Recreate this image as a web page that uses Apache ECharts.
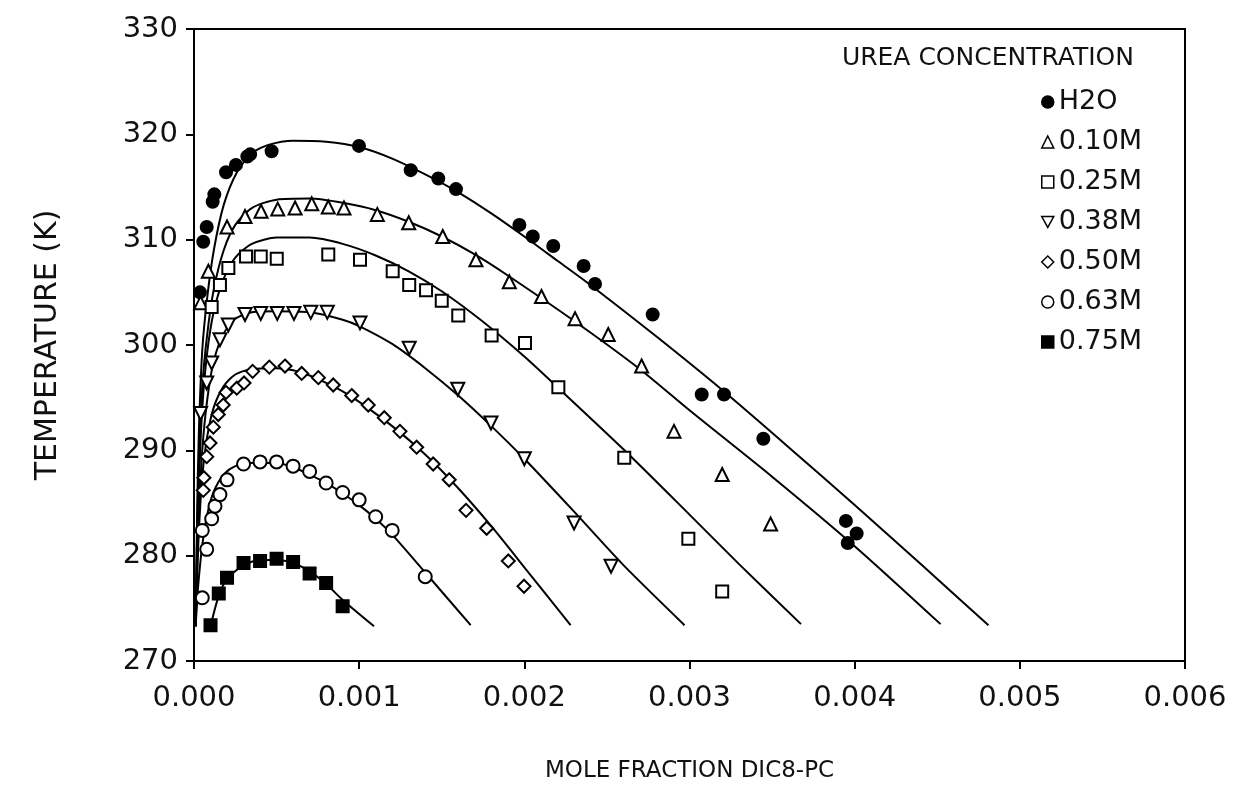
<!DOCTYPE html>
<html><head><meta charset="utf-8">
<script src="https://cdn.jsdelivr.net/npm/echarts@6/dist/echarts.min.js"></script>
<style>html,body{margin:0;padding:0;background:#fff}#c{width:1234px;height:788px}</style>
</head><body><div id="c"></div>
<script>
// ---- data (x = mole fraction DiC8-PC, y = temperature K) ----
const legendTitle = 'UREA CONCENTRATION';
const seriesNames = ['H2O', '0.10M', '0.25M', '0.38M', '0.50M', '0.63M', '0.75M'];

const ptsH2O = [[0.000036,305.0],[0.000056,309.8],[0.000077,311.2],[0.000113,313.6],[0.000123,314.3],[0.000194,316.4],[0.000254,317.1],[0.000323,317.9],[0.00034,318.1],[0.00047,318.4],[0.000999,318.9],[0.001312,316.6],[0.001479,315.8],[0.001586,314.8],[0.00197,311.4],[0.002051,310.3],[0.002175,309.4],[0.002359,307.5],[0.002428,305.8],[0.002777,302.9],[0.003074,295.3],[0.003209,295.3],[0.003447,291.1],[0.003947,283.3],[0.004012,282.1],[0.003958,281.2]];
const pts010 = [[0.00004,304.0],[0.000087,307.0],[0.0002,311.2],[0.000309,312.2],[0.000406,312.7],[0.000507,312.9],[0.000612,313.0],[0.000713,313.4],[0.000813,313.1],[0.000908,313.0],[0.00111,312.4],[0.0013,311.6],[0.001506,310.3],[0.001707,308.1],[0.001909,306.0],[0.002104,304.6],[0.002307,302.5],[0.002508,301.0],[0.00271,298.0],[0.002906,291.8],[0.003198,287.7],[0.003491,283.0]];
const pts025 = [[0.000107,303.6],[0.000157,305.7],[0.000208,307.3],[0.000315,308.4],[0.000404,308.4],[0.000501,308.2],[0.000813,308.6],[0.001005,308.1],[0.001203,307.0],[0.001303,305.7],[0.001405,305.2],[0.0015,304.2],[0.0016,302.8],[0.001802,300.9],[0.002004,300.2],[0.002206,296.0],[0.002605,289.3],[0.002993,281.6],[0.003198,276.6]];
const pts038 = [[0.00004,293.5],[0.000077,296.4],[0.000107,298.3],[0.000157,300.5],[0.000208,301.9],[0.000309,302.9],[0.000404,303.0],[0.000504,303.0],[0.000605,303.0],[0.000707,303.1],[0.000807,303.1],[0.001005,302.1],[0.001303,299.7],[0.001597,295.8],[0.001798,292.6],[0.002,289.2],[0.002301,283.1],[0.002525,279.0]];
const pts050 = [[0.000056,286.2],[0.00006,287.4],[0.000077,289.4],[0.000097,290.7],[0.000117,292.2],[0.000147,293.4],[0.000177,294.3],[0.000194,295.5],[0.000259,295.9],[0.000303,296.4],[0.000355,297.5],[0.000456,297.9],[0.000551,298.0],[0.000652,297.3],[0.000753,296.9],[0.000843,296.2],[0.000955,295.2],[0.001055,294.3],[0.001152,293.1],[0.001247,291.8],[0.001348,290.3],[0.001448,288.7],[0.001545,287.2],[0.001647,284.3],[0.001772,282.6],[0.001903,279.5],[0.001998,277.1]];
const pts063 = [[0.00005,276.0],[0.000077,280.6],[0.00005,282.4],[0.000107,283.5],[0.000127,284.7],[0.000157,285.8],[0.0002,287.2],[0.0003,288.7],[0.0004,288.9],[0.0005,288.9],[0.0006,288.5],[0.0007,288.0],[0.0008,286.9],[0.0009,286.0],[0.001,285.3],[0.0011,283.7],[0.0012,282.4],[0.0014,278.0]];
const pts075 = [[0.0001,273.4],[0.00015,276.4],[0.0002,277.9],[0.0003,279.3],[0.0004,279.5],[0.0005,279.7],[0.0006,279.4],[0.0007,278.3],[0.0008,277.4],[0.0009,275.2]];

// fitted curves
const fitH2O = [[0.00001,273.3],[0.00002,285],[0.00003,292],[0.00005,299.5],[0.00008,304.5],[0.00012,309],[0.00018,313.3],[0.00026,316.4],[0.00035,318.2],[0.00045,319.0],[0.0006,319.4],[0.0008,319.3],[0.001,318.8],[0.0012,317.7],[0.0014,316.2],[0.0016,314.5],[0.0018,312.5],[0.002,310.3],[0.0022,308.0],[0.0024,305.7],[0.0028,300.8],[0.0032,295.7],[0.0036,290.3],[0.004,284.8],[0.0044,279.2],[0.00481,273.4]];
const fit010 = [[0.00001,273.3],[0.00002,283],[0.00003,289],[0.00005,296],[0.00008,301],[0.00012,305.3],[0.00018,309.0],[0.00025,311.4],[0.00035,313.0],[0.0005,313.8],[0.0007,313.9],[0.0009,313.5],[0.0011,312.8],[0.0013,311.7],[0.0015,310.3],[0.0017,308.6],[0.0019,306.6],[0.0023,302.3],[0.0027,297.7],[0.003,293.8],[0.0035,287.5],[0.004,280.9],[0.00452,273.5]];
const fit025 = [[0.00001,273.3],[0.00002,281],[0.00003,287],[0.00005,294],[0.00008,299.3],[0.00012,303.2],[0.00018,306.3],[0.00025,308.3],[0.00035,309.6],[0.0005,310.2],[0.0007,310.2],[0.0009,309.6],[0.0011,308.5],[0.0013,307.0],[0.0015,305.1],[0.00175,302.2],[0.002,298.9],[0.0022,296.0],[0.0026,290.1],[0.003,283.9],[0.0033,279.2],[0.003675,273.5]];
const fit038 = [[0.00001,273.3],[0.00002,279.5],[0.00003,284],[0.00005,290],[0.00008,294.8],[0.00012,298.5],[0.00018,301.1],[0.00025,302.5],[0.00035,303.1],[0.0005,303.2],[0.0007,303.1],[0.0009,302.4],[0.001,301.8],[0.0012,300.1],[0.0014,297.8],[0.0016,295.2],[0.0018,292.3],[0.002,289.2],[0.0023,284.2],[0.0026,279.1],[0.00297,273.4]];
const fit050 = [[0.00001,273.3],[0.00002,278.5],[0.00003,282.5],[0.00005,287.5],[0.00008,291.3],[0.00012,294.1],[0.00018,296.1],[0.00025,297.2],[0.00035,297.7],[0.0005,297.8],[0.0006,297.6],[0.0007,297.1],[0.0008,296.4],[0.0009,295.6],[0.001,294.6],[0.0012,292.3],[0.0014,289.6],[0.0016,286.4],[0.0018,282.8],[0.002,278.9],[0.00228,273.4]];
const fit063 = [[0.00001,273.3],[0.00002,276],[0.00003,278],[0.00005,281],[0.00008,283.9],[0.00012,286.1],[0.00018,287.7],[0.00025,288.5],[0.00035,288.8],[0.0005,288.8],[0.0006,288.4],[0.0007,287.7],[0.0008,286.9],[0.0009,285.9],[0.001,284.8],[0.0011,283.5],[0.0012,282.0],[0.0014,278.4],[0.001675,273.4]];
const fit075 = [[0.0001,273.3],[0.00015,276.2],[0.0002,277.8],[0.0003,279.1],[0.0004,279.6],[0.0005,279.6],[0.0006,279.3],[0.0007,278.5],[0.0008,277.3],[0.0009,275.8],[0.00109,273.3]];

const pointSets = [ptsH2O, pts010, pts025, pts038, pts050, pts063, pts075];
const fitSets = [fitH2O, fit010, fit025, fit038, fit050, fit063, fit075];

// ---- styling ----
const FONT = 'DejaVu Sans';
const DOWN_TRI = 'path://M0,0L10,0L5,9Z';
const markerStyles = [
  {symbol: 'circle', size: 12, rotate: 0, fill: '#000', icon: 'circle'},
  {symbol: 'triangle', size: 13, rotate: 0, fill: '#fff', icon: 'triangle'},
  {symbol: 'rect', size: 12, rotate: 0, fill: '#fff', icon: 'rect'},
  {symbol: 'triangle', size: 13, rotate: 180, fill: '#fff', icon: DOWN_TRI},
  {symbol: 'diamond', size: 13, rotate: 0, fill: '#fff', icon: 'diamond'},
  {symbol: 'circle', size: 13, rotate: 0, fill: '#fff', icon: 'circle'},
  {symbol: 'rect', size: 12, rotate: 0, fill: '#000', icon: 'rect'}
];

const series = [];
fitSets.forEach((d, i) => {
  series.push({
    name: 'fit ' + seriesNames[i], type: 'line', data: d, showSymbol: false, silent: true,
    smooth: 0.25, z: 2,
    lineStyle: {color: '#000', width: 2}
  });
});
pointSets.forEach((d, i) => {
  const m = markerStyles[i];
  series.push({
    name: seriesNames[i], type: 'scatter', data: d, z: 5,
    symbol: m.symbol, symbolSize: m.size, symbolRotate: m.rotate,
    itemStyle: {color: m.fill, borderColor: '#000', borderWidth: 2, opacity: 1}
  });
});

const chart = echarts.init(document.getElementById('c'), null, {renderer: 'canvas'});
chart.setOption({
  animation: false,
  backgroundColor: '#fff',
  title: {
    text: legendTitle, right: 95, top: 41,
    textStyle: {fontFamily: FONT, fontSize: 25, fontWeight: 'normal', color: '#111'}
  },
  legend: {
    data: seriesNames.map((n, i) => ({name: n, icon: markerStyles[i].icon})),
    orient: 'vertical', left: 1036, top: 83,
    itemWidth: 12, itemHeight: 12, itemGap: 12, selectedMode: false,
    itemStyle: {borderWidth: 1.5},
    textStyle: {fontFamily: FONT, fontSize: 27, color: '#111', lineHeight: 28}
  },
  grid: {left: 194, right: 49, top: 29, bottom: 127, show: true, borderColor: '#000', borderWidth: 2},
  xAxis: {
    type: 'value', min: 0, max: 0.006, interval: 0.001,
    name: 'MOLE FRACTION DIC8-PC', nameLocation: 'middle', nameGap: 99,
    nameTextStyle: {fontFamily: FONT, fontSize: 23, color: '#111'},
    axisLine: {show: true, lineStyle: {color: '#000', width: 2}},
    axisTick: {show: true, length: 8, lineStyle: {color: '#000', width: 2}},
    splitLine: {show: false},
    axisLabel: {margin: 23, fontFamily: FONT, fontSize: 29, color: '#111', formatter: v => v.toFixed(3)}
  },
  yAxis: {
    type: 'value', min: 270, max: 330, interval: 10,
    name: 'TEMPERATURE (K)', nameLocation: 'middle', nameGap: 131, nameRotate: 90,
    nameTextStyle: {fontFamily: FONT, fontSize: 30, color: '#111'},
    axisLine: {show: true, lineStyle: {color: '#000', width: 2}},
    axisTick: {show: true, length: 8, lineStyle: {color: '#000', width: 2}},
    splitLine: {show: false},
    axisLabel: {margin: 16, fontFamily: FONT, fontSize: 29, color: '#111'}
  },
  series: series
});
</script></body></html>
